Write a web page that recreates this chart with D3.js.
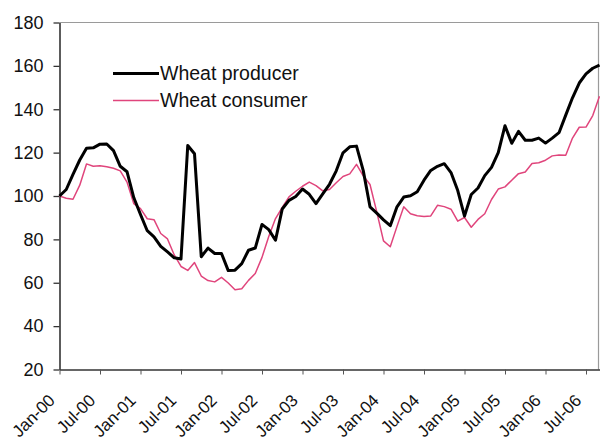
<!DOCTYPE html>
<html><head><meta charset="utf-8">
<script src="https://cdn.jsdelivr.net/npm/d3@7"></script>
<style>body{margin:0;background:#fff}svg{display:block}text{font-family:"Liberation Sans",Arial,sans-serif;fill:#111}</style>
</head><body><svg id="c" width="600" height="439"></svg>
<script>
// Categories: monthly, Jan-00 .. Sep-06
const months = d3.timeMonth.range(new Date(2000,0,1), new Date(2006,9,1)).map(d3.timeFormat("%b-%y"));
const tickLabels = ["Jan-00","Jul-00","Jan-01","Jul-01","Jan-02","Jul-02","Jan-03","Jul-03","Jan-04","Jul-04","Jan-05","Jul-05","Jan-06","Jul-06"];
const yTicks = [20,40,60,80,100,120,140,160,180];
const seriesNames = ["Wheat producer","Wheat consumer"];
const producer = [100,103,110,116.6,122,122.2,123.9,124,120.9,113.7,111.2,99.3,91.5,84,81.2,76.8,74.2,71.5,71,123.3,119.5,72,76,73.5,73.5,65.6,65.8,68.8,75,76,86.9,84.5,79.6,94,98,99.8,103.2,100.8,96.5,101,105.4,111.6,119.9,122.7,123,111.7,95,92.1,89,86.3,95,99.5,100.1,102,107.3,111.8,113.7,114.9,110.8,102.5,90.7,100.7,103.7,109.4,113.2,120,132.4,124.3,129.8,125.7,125.7,126.7,124.4,126.7,129.2,137.3,145.3,152.1,156.3,158.9,160.4];
const consumer = [100,99,98.5,105,114.8,113.7,114,113.5,112.8,111.6,106.4,96.5,94.2,89.5,89.1,82.7,80.2,72.8,67.5,65.7,69.3,63.1,61,60.4,62.5,59.9,56.8,57.2,61.1,64.3,71.7,81.3,89.6,94.7,99.6,102.2,104.5,106.4,104.8,102.4,103,106.1,109,110.2,114.6,109.3,105.3,92.7,79.3,76.6,86,95,91.8,90.9,90.6,90.8,95.7,95.1,93.9,88.4,90.1,85.6,89.2,91.8,98.4,103.2,104.2,107.3,110.3,111.1,115,115.3,116.5,118.5,118.9,118.8,126.7,131.7,131.8,137.1,146];

const svg = d3.select("#c");
const L = 59.5, R = 599.5, T = 22.5, B = 369.5;
const x = d3.scalePoint().domain(months).range([L, R]);
const y = d3.scaleLinear().domain([20,180]).range([B, T]);

// plot border (top/right)
svg.append("path").attr("d", `M${L},${T}H${R-1}V${B}`).attr("fill","none").attr("stroke","#9a9a9a").attr("stroke-width",1.2);

// y axis
const ya = svg.append("g").attr("transform",`translate(${L},0)`)
  .call(d3.axisLeft(y).tickValues(yTicks).tickSize(6).tickPadding(10).tickSizeOuter(0));
ya.select(".domain").attr("stroke","#333").attr("stroke-width",1.6);
ya.selectAll(".tick line").attr("stroke","#333").attr("stroke-width",1.3);
ya.selectAll("text").attr("font-size","18px").attr("fill","#111");

// x axis
const xa = svg.append("g").attr("transform",`translate(0,${B})`)
  .call(d3.axisBottom(x).tickValues(tickLabels).tickSize(5).tickSizeOuter(0));
xa.select(".domain").attr("stroke","#333").attr("stroke-width",1.6);
xa.selectAll(".tick line").attr("stroke","#555").attr("stroke-width",1);
xa.selectAll("text").attr("font-size","17px").attr("fill","#111")
  .attr("text-anchor","end").attr("dy","0")
  .attr("transform","translate(-4,32) rotate(-45)").attr("y",0).attr("x",0);

// lines
const line = d3.line().x((d,i)=>x(months[i])).y(d=>y(d));
svg.append("path").datum(consumer).attr("d",line).attr("fill","none").attr("stroke","#e0457c").attr("stroke-width",1.5).attr("stroke-linejoin","round");
svg.append("path").datum(producer).attr("d",line).attr("fill","none").attr("stroke","#000").attr("stroke-width",3).attr("stroke-linejoin","round");

// legend
const leg = svg.append("g");
leg.append("line").attr("x1",113).attr("x2",159).attr("y1",73.5).attr("y2",73.5).attr("stroke","#000").attr("stroke-width",3);
leg.append("line").attr("x1",113).attr("x2",159).attr("y1",100.5).attr("y2",100.5).attr("stroke","#e0457c").attr("stroke-width",1.6);
leg.append("text").attr("x",160).attr("y",80).attr("font-size","19.5px").text(seriesNames[0]);
leg.append("text").attr("x",160).attr("y",106.5).attr("font-size","19.5px").text(seriesNames[1]);
</script></body></html>
